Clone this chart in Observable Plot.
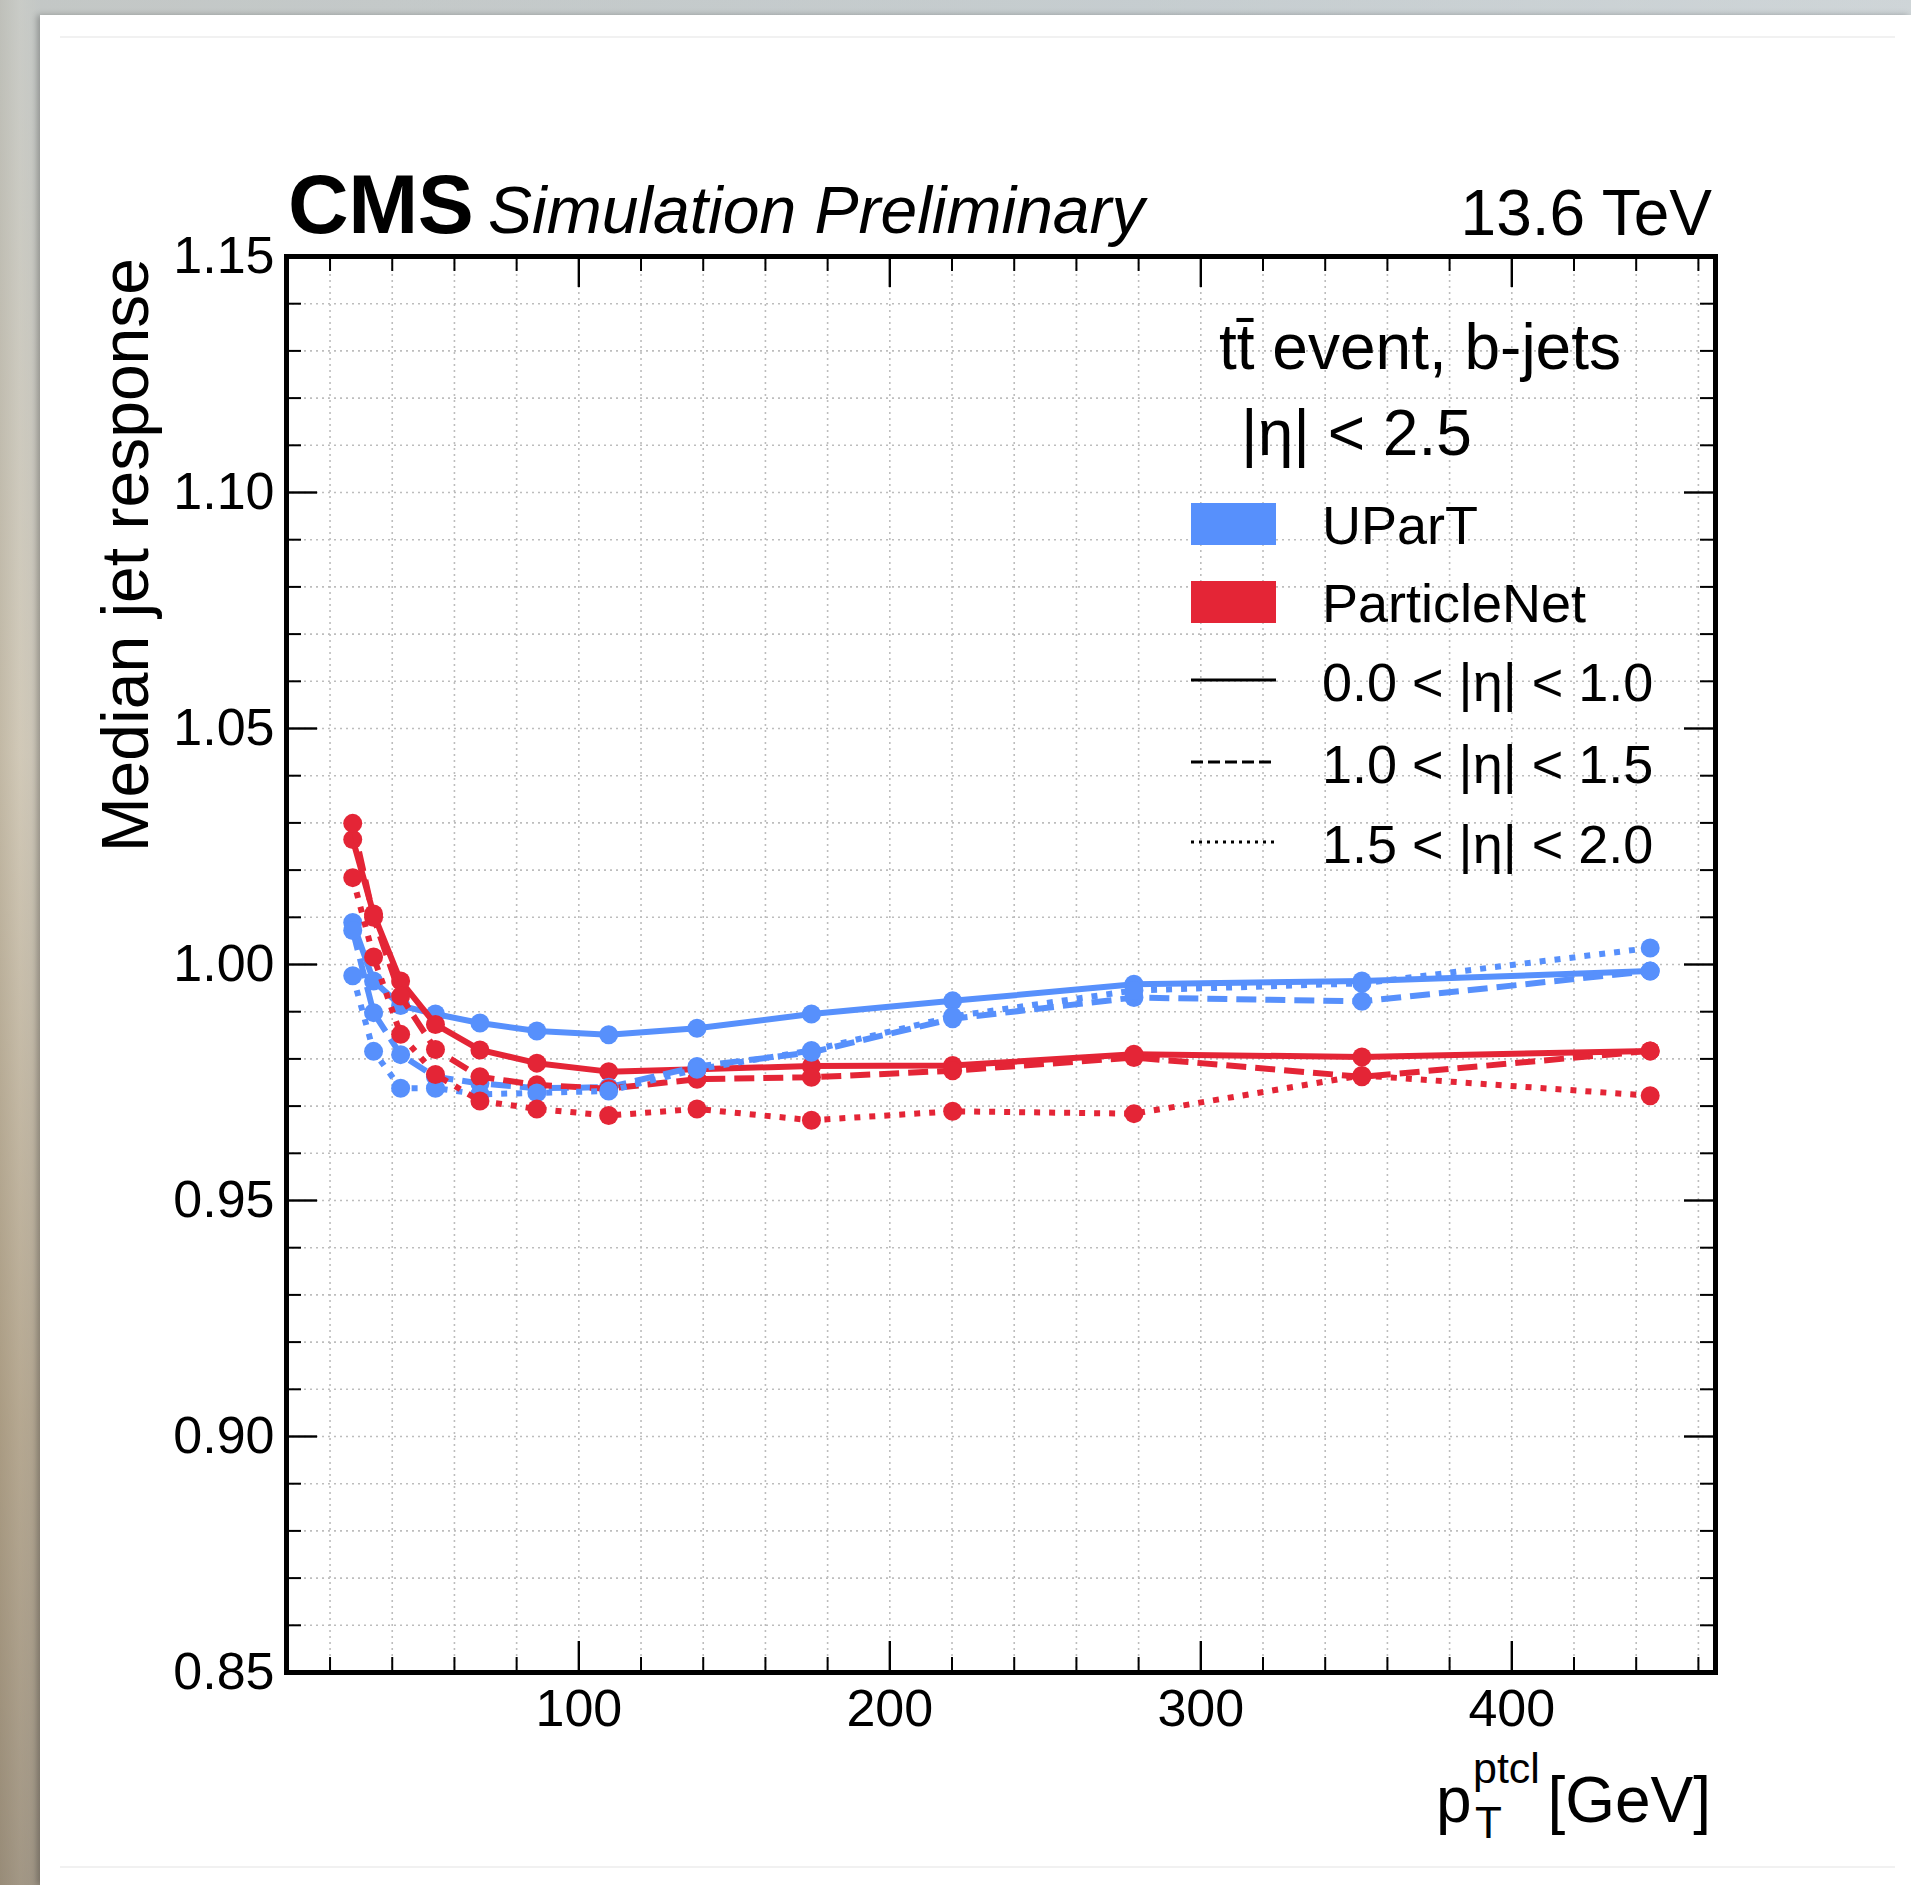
<!DOCTYPE html>
<html>
<head>
<meta charset="utf-8">
<script src="https://cdn.jsdelivr.net/npm/d3@7"></script>
<script src="https://cdn.jsdelivr.net/npm/@observablehq/plot@0.6"></script>
<style>
  html, body { margin: 0; padding: 0; }
  body {
    width: 1911px; height: 1885px; overflow: hidden; position: relative;
    background: linear-gradient(90deg, #bfb6a3 0px, #d6cfbf 20px, #c9c6bd 40px, #cfd3d3 60%, #e3e5e5 100%);
  }
  #bgtop {
    position: absolute; left: 0; top: 0; width: 1911px; height: 1885px;
    background: linear-gradient(180deg, rgba(190,200,205,0.55) 0px, rgba(200,190,170,0.35) 40%, rgba(150,130,100,0.5) 75%, rgba(120,105,85,0.55) 100%);
  }
  #card {
    position: absolute; left: 40px; top: 15px; width: 1871px; height: 1870px;
    background: #ffffff; box-shadow: -3px 0 6px rgba(0,0,0,0.25);
  }
  #chart { position: absolute; left: 0; top: 0; }
</style>
</head>
<body>
<div id="bgtop"></div>
<div id="card"></div>
<div id="chart"></div>
<script>
// ---------------- data ----------------
const ptBins = [27.3, 34.0, 42.7, 53.9, 68.2, 86.5, 109.6, 138.0, 174.8, 220.2, 278.5, 351.8, 444.5];

const upartEta00to10 = [1.0089, 0.9965, 0.9913, 0.9895, 0.9876, 0.9859, 0.9851, 0.9865, 0.9895, 0.9923, 0.9958, 0.9965, 0.9986];
const upartEta10to15 = [1.0072, 0.9898, 0.9809, 0.9762, 0.9748, 0.9738, 0.9740, 0.9784, 0.9814, 0.9885, 0.9930, 0.9922, 0.9986];
const upartEta15to20 = [0.9976, 0.9816, 0.9738, 0.9738, 0.9725, 0.9728, 0.9732, 0.9778, 0.9818, 0.9890, 0.9945, 0.9960, 1.0035];

const pnetEta00to10 = [1.0265, 1.0107, 0.9965, 0.9873, 0.9819, 0.9791, 0.9773, 0.9778, 0.9785, 0.9786, 0.9810, 0.9804, 0.9817];
const pnetEta10to15 = [1.0299, 1.0100, 0.9933, 0.9820, 0.9762, 0.9745, 0.9737, 0.9757, 0.9761, 0.9775, 0.9803, 0.9762, 0.9817];
const pnetEta15to20 = [1.0184, 1.0016, 0.9852, 0.9767, 0.9711, 0.9694, 0.9680, 0.9694, 0.9670, 0.9689, 0.9684, 0.9765, 0.9722];

const models = ["UParT", "ParticleNet"];
const modelColors = ["#5790fc", "#e42536"];
const etaLabels = ["0.0 < |η| < 1.0", "1.0 < |η| < 1.5", "1.5 < |η| < 2.0"];

const xMajorTicks = [100, 200, 300, 400];
const xMinorTicks = [20, 40, 60, 80, 120, 140, 160, 180, 220, 240, 260, 280, 320, 340, 360, 380, 420, 440, 460];
const yMajorTicks = [0.85, 0.90, 0.95, 1.00, 1.05, 1.10, 1.15];
const yMinorTicks = [0.86,0.87,0.88,0.89,0.91,0.92,0.93,0.94,0.96,0.97,0.98,0.99,1.01,1.02,1.03,1.04,1.06,1.07,1.08,1.09,1.11,1.12,1.13,1.14];
const xGridLines = [20,40,60,80,100,120,140,160,180,200,220,240,260,280,300,320,340,360,380,400,420,440,460];
const yGridLines = [0.86,0.87,0.88,0.89,0.90,0.91,0.92,0.93,0.94,0.95,0.96,0.97,0.98,0.99,1.00,1.01,1.02,1.03,1.04,1.05,1.06,1.07,1.08,1.09,1.10,1.11,1.12,1.13,1.14];

// ---------------- build table ----------------
const series = [
  {model: "UParT", eta: 0, values: upartEta00to10},
  {model: "ParticleNet", eta: 0, values: pnetEta00to10},
  {model: "UParT", eta: 1, values: upartEta10to15},
  {model: "ParticleNet", eta: 1, values: pnetEta10to15},
  {model: "UParT", eta: 2, values: upartEta15to20},
  {model: "ParticleNet", eta: 2, values: pnetEta15to20}
];
const dashFor = [null, "20,9", "6,9"];

const W = 1911, H = 1885;
const mL = 286, mR = 196, mT = 256, mB = 213;
const frameW = W - mL - mR, frameH = H - mT - mB;
const majorLen = 31, minorLen = 15;

const marks = [];
// grid
marks.push(Plot.ruleX(xGridLines, {x: d => d, stroke: "#bdbdbd", strokeWidth: 1.6, strokeDasharray: "2,4"}));
marks.push(Plot.ruleY(yGridLines, {y: d => d, stroke: "#bdbdbd", strokeWidth: 1.6, strokeDasharray: "2,4"}));
// data
for (const s of series) {
  const rows = ptBins.map((p, i) => ({pt: p, r: s.values[i], model: s.model}));
  marks.push(Plot.line(rows, {x: "pt", y: "r", stroke: "model", strokeWidth: 6,
    strokeDasharray: dashFor[s.eta], strokeLinecap: "butt", strokeLinejoin: "round"}));
  marks.push(Plot.dot(rows, {x: "pt", y: "r", fill: "model", r: 9.5, stroke: "none"}));
}
// ticks (inward, all four sides)
marks.push(Plot.tickX(xMajorTicks, {x: d => d, stroke: "black", strokeWidth: 2.4, insetTop: frameH - majorLen}));
marks.push(Plot.tickX(xMajorTicks, {x: d => d, stroke: "black", strokeWidth: 2.4, insetBottom: frameH - majorLen}));
marks.push(Plot.tickX(xMinorTicks, {x: d => d, stroke: "black", strokeWidth: 2, insetTop: frameH - minorLen}));
marks.push(Plot.tickX(xMinorTicks, {x: d => d, stroke: "black", strokeWidth: 2, insetBottom: frameH - minorLen}));
marks.push(Plot.tickY(yMajorTicks, {y: d => d, stroke: "black", strokeWidth: 2.4, insetRight: frameW - majorLen}));
marks.push(Plot.tickY(yMajorTicks, {y: d => d, stroke: "black", strokeWidth: 2.4, insetLeft: frameW - majorLen}));
marks.push(Plot.tickY(yMinorTicks, {y: d => d, stroke: "black", strokeWidth: 2, insetRight: frameW - minorLen}));
marks.push(Plot.tickY(yMinorTicks, {y: d => d, stroke: "black", strokeWidth: 2, insetLeft: frameW - minorLen}));
// tick labels
marks.push(Plot.axisX(xMajorTicks, {tickSize: 0, tickPadding: 17, fontSize: 52, label: null, tickFormat: d => String(d)}));
marks.push(Plot.axisY(yMajorTicks, {tickSize: 0, tickPadding: 12, fontSize: 52, label: null, tickFormat: d3.format(".2f")}));
marks.push(Plot.frame({stroke: "black", strokeWidth: 5}));

const chart = Plot.plot({
  width: W, height: H,
  marginLeft: mL, marginRight: mR, marginTop: mT, marginBottom: mB,
  x: {domain: [6, 465.5]},
  y: {domain: [0.85, 1.15]},
  color: {domain: models, range: modelColors},
  style: {background: "transparent", fontFamily: "'Liberation Sans', Arial, sans-serif", color: "black", overflow: "visible"},
  marks
});
document.getElementById("chart").appendChild(chart);

// ---------------- annotations & legend ----------------
const svg = d3.select(chart);
const FF = "'Liberation Sans', Arial, sans-serif";
const g = svg.append("g").attr("font-family", FF).attr("fill", "black").attr("text-anchor", "start");

// page inner separators of the card
g.append("line").attr("x1", 60).attr("x2", 1895).attr("y1", 37).attr("y2", 37).attr("stroke", "#ececec").attr("stroke-width", 1.5);
g.append("line").attr("x1", 60).attr("x2", 1895).attr("y1", 1867).attr("y2", 1867).attr("stroke", "#ececec").attr("stroke-width", 1.5);

g.append("text").attr("x", 288).attr("y", 233).attr("font-size", 84).attr("font-weight", "bold")
  .attr("letter-spacing", -0.5).text("CMS");
g.append("text").attr("x", 488).attr("y", 233).attr("font-size", 66).attr("font-style", "italic")
  .text("Simulation Preliminary");
g.append("text").attr("x", 1712).attr("y", 235).attr("font-size", 64).attr("text-anchor", "end")
  .text("13.6 TeV");

// y label
g.append("text").attr("transform", "translate(148,258) rotate(-90)").attr("text-anchor", "end")
  .attr("font-size", 66).text("Median jet response");

// x label  p_T^ptcl [GeV]
g.append("text").attr("x", 1436).attr("y", 1822).attr("font-size", 64).text("p");
g.append("text").attr("x", 1475).attr("y", 1838).attr("font-size", 44).text("T");
g.append("text").attr("x", 1473).attr("y", 1783).attr("font-size", 43).text("ptcl");
g.append("text").attr("x", 1711).attr("y", 1822).attr("font-size", 64).attr("text-anchor", "end").text("[GeV]");

// legend header
g.append("text").attr("x", 1219).attr("y", 369).attr("font-size", 64).text("tt\u0304 event, b-jets");
g.append("text").attr("x", 1241).attr("y", 455).attr("font-size", 64).text("|η| < 2.5");

// legend entries
const legX = 1191, legW = 85, textX = 1322;
const patchY = [503, 581];
models.forEach((m, i) => {
  g.append("rect").attr("x", legX).attr("y", patchY[i]).attr("width", legW).attr("height", 42).attr("fill", modelColors[i]);
  g.append("text").attr("x", textX).attr("y", patchY[i] + 41).attr("font-size", 54).text(m);
});
const lineY = [680, 762, 842];
const legDash = [null, "12,5", "3,5"];
etaLabels.forEach((lab, i) => {
  const ln = g.append("line").attr("x1", legX).attr("x2", legX + legW).attr("y1", lineY[i]).attr("y2", lineY[i])
    .attr("stroke", "black").attr("stroke-width", 3);
  if (legDash[i]) ln.attr("stroke-dasharray", legDash[i]);
  g.append("text").attr("x", textX).attr("y", lineY[i] + 21).attr("font-size", 54).text(lab);
});
</script>
</body>
</html>
